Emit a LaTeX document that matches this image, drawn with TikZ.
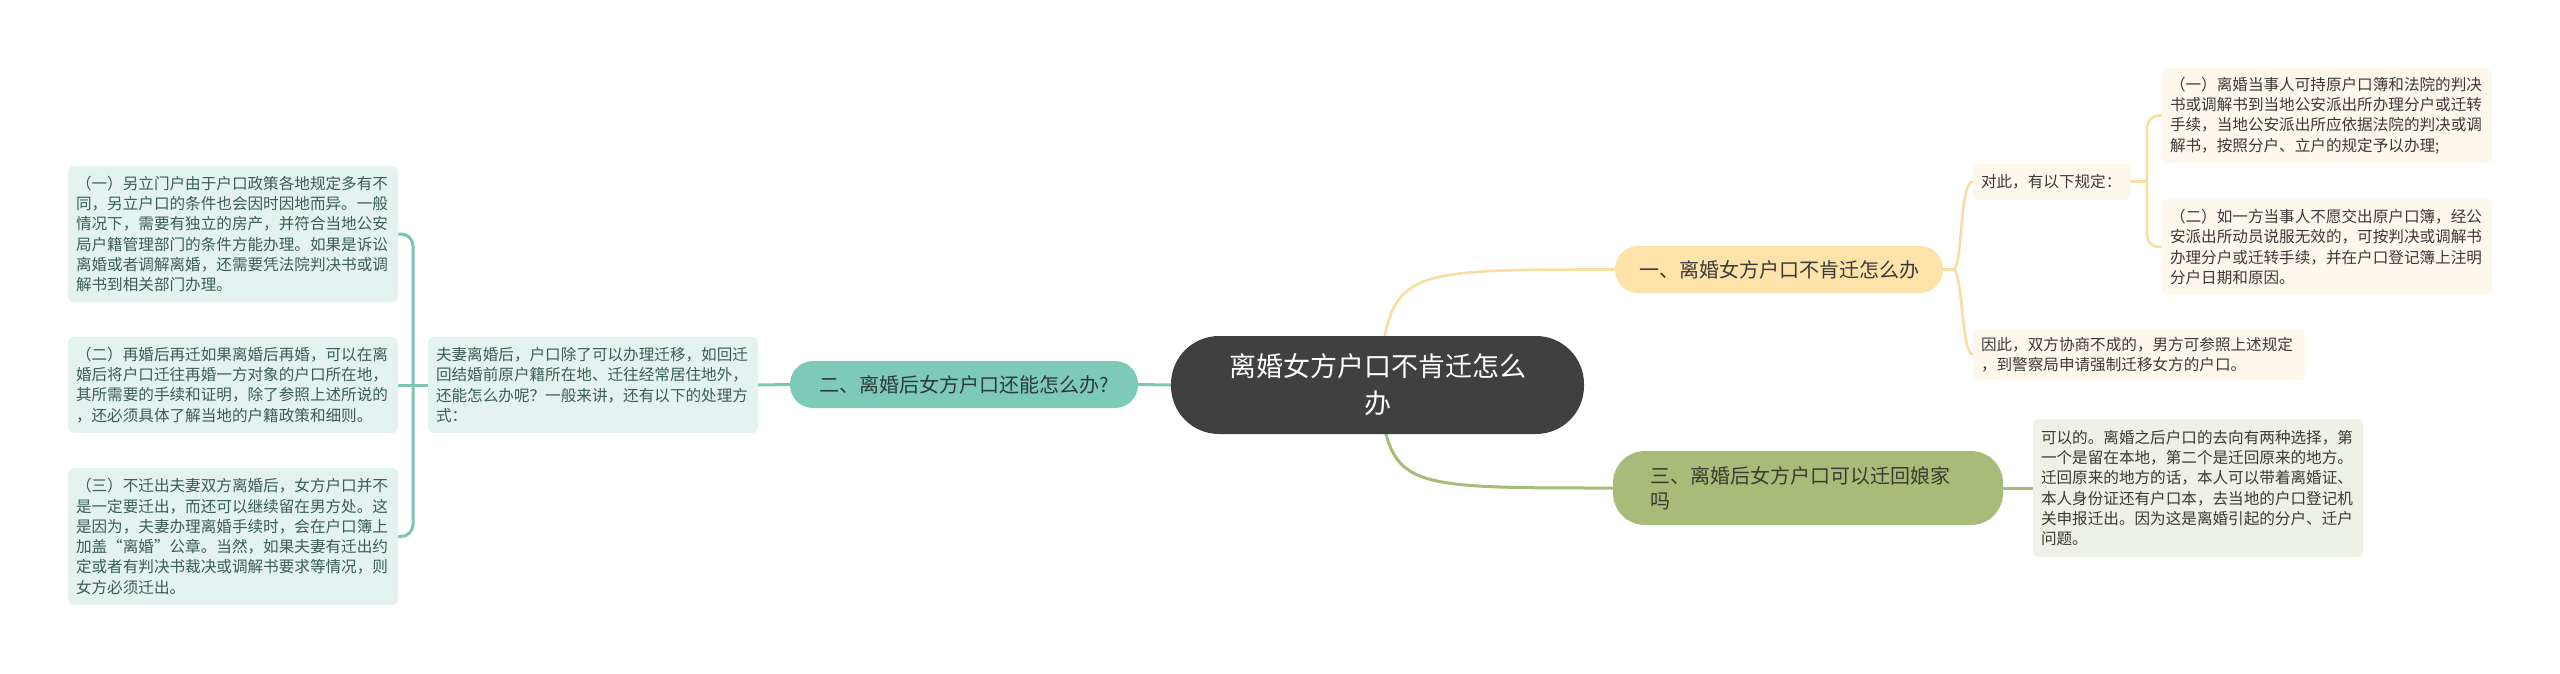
\documentclass[tikz,border=0pt]{standalone}
\usepackage{fontspec}
\setmainfont{Noto Sans CJK SC}
\usetikzlibrary{backgrounds}
\definecolor{tealline}{HTML}{7CC6B6}
\definecolor{tealnode}{HTML}{7ECAB9}
\definecolor{tealfill}{HTML}{E4F3EF}
\definecolor{tealtext}{HTML}{3A5E54}
\definecolor{orangenode}{HTML}{FDE3AA}
\definecolor{orangeline}{HTML}{F8DEA3}
\definecolor{creamfill}{HTML}{FEF8EC}
\definecolor{otext}{HTML}{3A3A3A}
\definecolor{greennode}{HTML}{A6BC78}
\definecolor{greenline}{HTML}{A6BC78}
\definecolor{greenfill}{HTML}{EEF1E5}
\definecolor{gtext}{HTML}{3B3B30}
\definecolor{darknode}{HTML}{404040}
\definecolor{ntext}{HTML}{2E3A36}
\begin{document}
\begin{tikzpicture}[x=1pt,y=-1pt,
  every node/.style={inner sep=0pt, outer sep=0pt},
  leaf/.style={rounded corners=6pt, align=left, inner xsep=8pt, font=\fontsize{15.6}{20.3}\selectfont},
  tleaf/.style={leaf, fill=tealfill, text=tealtext, text width=314pt},
  oleaf/.style={leaf, fill=creamfill, text=otext},
  gleaf/.style={leaf, fill=greenfill, text=gtext, text width=314pt},
  branch/.style={font=\fontsize{20}{25}\selectfont, minimum height=47pt, rounded corners=23pt},
  tline/.style={draw=tealline, line width=3pt},
  oline/.style={draw=orangeline, line width=2.6pt},
  gline/.style={draw=greenline, line width=3pt},
]
\useasboundingbox (0,0) rectangle (2560,673);

% left side
\node[tleaf, minimum height=136pt] (L1) at (233,234) {（一）另立门户由于户口政策各地规定多有不\\同，另立户口的条件也会因时因地而异。一般\\情况下，需要有独立的房产，并符合当地公安\\局户籍管理部门的条件方能办理。如果是诉讼\\离婚或者调解离婚，还需要凭法院判决书或调\\解书到相关部门办理。};
\node[tleaf, minimum height=96pt] (L2) at (233,385) {（二）再婚后再迁如果离婚后再婚，可以在离\\婚后将户口迁往再婚一方对象的户口所在地，\\其所需要的手续和证明，除了参照上述所说的\\，还必须具体了解当地的户籍政策和细则。};
\node[tleaf, minimum height=137pt] (L3) at (233,536.5) {（三）不迁出夫妻双方离婚后，女方户口并不\\是一定要迁出，而还可以继续留在男方处。这\\是因为，夫妻办理离婚手续时，会在户口簿上\\加盖“离婚”公章。当然，如果夫妻有迁出约\\定或者有判决书裁决或调解书要求等情况，则\\女方必须迁出。};
\node[tleaf, minimum height=96pt] (M) at (593,385) {夫妻离婚后，户口除了可以办理迁移，如回迁\\回结婚前原户籍所在地、迁往经常居住地外，\\还能怎么办呢？一般来讲，还有以下的处理方\\式：};
\node[branch, fill=tealnode, text=ntext, minimum width=348pt] (N2) at (964,384.5) {二、离婚后女方户口还能怎么办?};

% center
\node[fill=darknode, text=white, rounded corners=48pt, minimum width=413pt, minimum height=98pt, align=center, font=\fontsize{27}{37}\selectfont] (C) at (1377.5,385) {离婚女方户口不肯迁怎么\\办};

% right top
\node[branch, fill=orangenode, text=otext, minimum width=328pt] (N1) at (1779,269.5) {一、离婚女方户口不肯迁怎么办};
\node[oleaf, text width=142pt, minimum height=36pt] (D) at (2052,181.5) {对此，有以下规定：};
\node[oleaf, text width=314pt, minimum height=95pt] (R1) at (2327,115.5) {（一）离婚当事人可持原户口簿和法院的判决\\书或调解书到当地公安派出所办理分户或迁转\\手续，当地公安派出所应依据法院的判决或调\\解书，按照分户、立户的规定予以办理;};
\node[oleaf, text width=314pt, minimum height=96pt] (R2) at (2327,247) {（二）如一方当事人不愿交出原户口簿，经公\\安派出所动员说服无效的，可按判决或调解书\\办理分户或迁转手续，并在户口登记簿上注明\\分户日期和原因。};
\node[oleaf, text width=316pt, minimum height=51pt] (Y) at (2139,354.5) {因此，双方协商不成的，男方可参照上述规定\\，到警察局申请强制迁移女方的户口。};

% right bottom
\node[branch, fill=greennode, text=gtext, minimum width=390pt, minimum height=74pt, rounded corners=32pt, text width=316pt, align=left] (N3) at (1808,488) {三、离婚后女方户口可以迁回娘家\\吗};
\node[gleaf, minimum height=138pt] (G) at (2198,488) {可以的。离婚之后户口的去向有两种选择，第\\一个是留在本地，第二个是迁回原来的地方。\\迁回原来的地方的话，本人可以带着离婚证、\\本人身份证还有户口本，去当地的户口登记机\\关申报迁出。因为这是离婚引起的分户、迁户\\问题。};

\coordinate (lb) at (413,0);
\coordinate (rb) at (2147,0);
\coordinate (ob) at (1953,269.5);

\begin{scope}[on background layer]
% left connectors
\draw[tline] (N2.east) -- (C.west);
\draw[tline] (M.east) -- (N2.west);
\draw[tline] (L2.east) -- (M.west);
\draw[tline, rounded corners=12pt] (L1.east) -- (L1.east -| lb) -- (L3.east -| lb) -- (L3.east);
% center to branches
\draw[oline] (C.center) .. controls (1392,269.5) .. (N1.west);
\draw[gline] (C.center) .. controls (1392,488) .. (N3.west);
\draw[gline] (N3.east) -- (G.west);
% branch one
\draw[oline] (N1.east) -- (ob) .. controls (1963,269.5) and (1959,181.5) .. (D.west);
\draw[oline] (ob) .. controls (1963,269.5) and (1961,354.5) .. (Y.west);
\draw[oline] (D.east) -- (D.east -| rb);
\draw[oline, rounded corners=12pt] (R1.west) -- (R1.west -| rb) -- (R2.west -| rb) -- (R2.west);
\end{scope}
\end{tikzpicture}
\end{document}
